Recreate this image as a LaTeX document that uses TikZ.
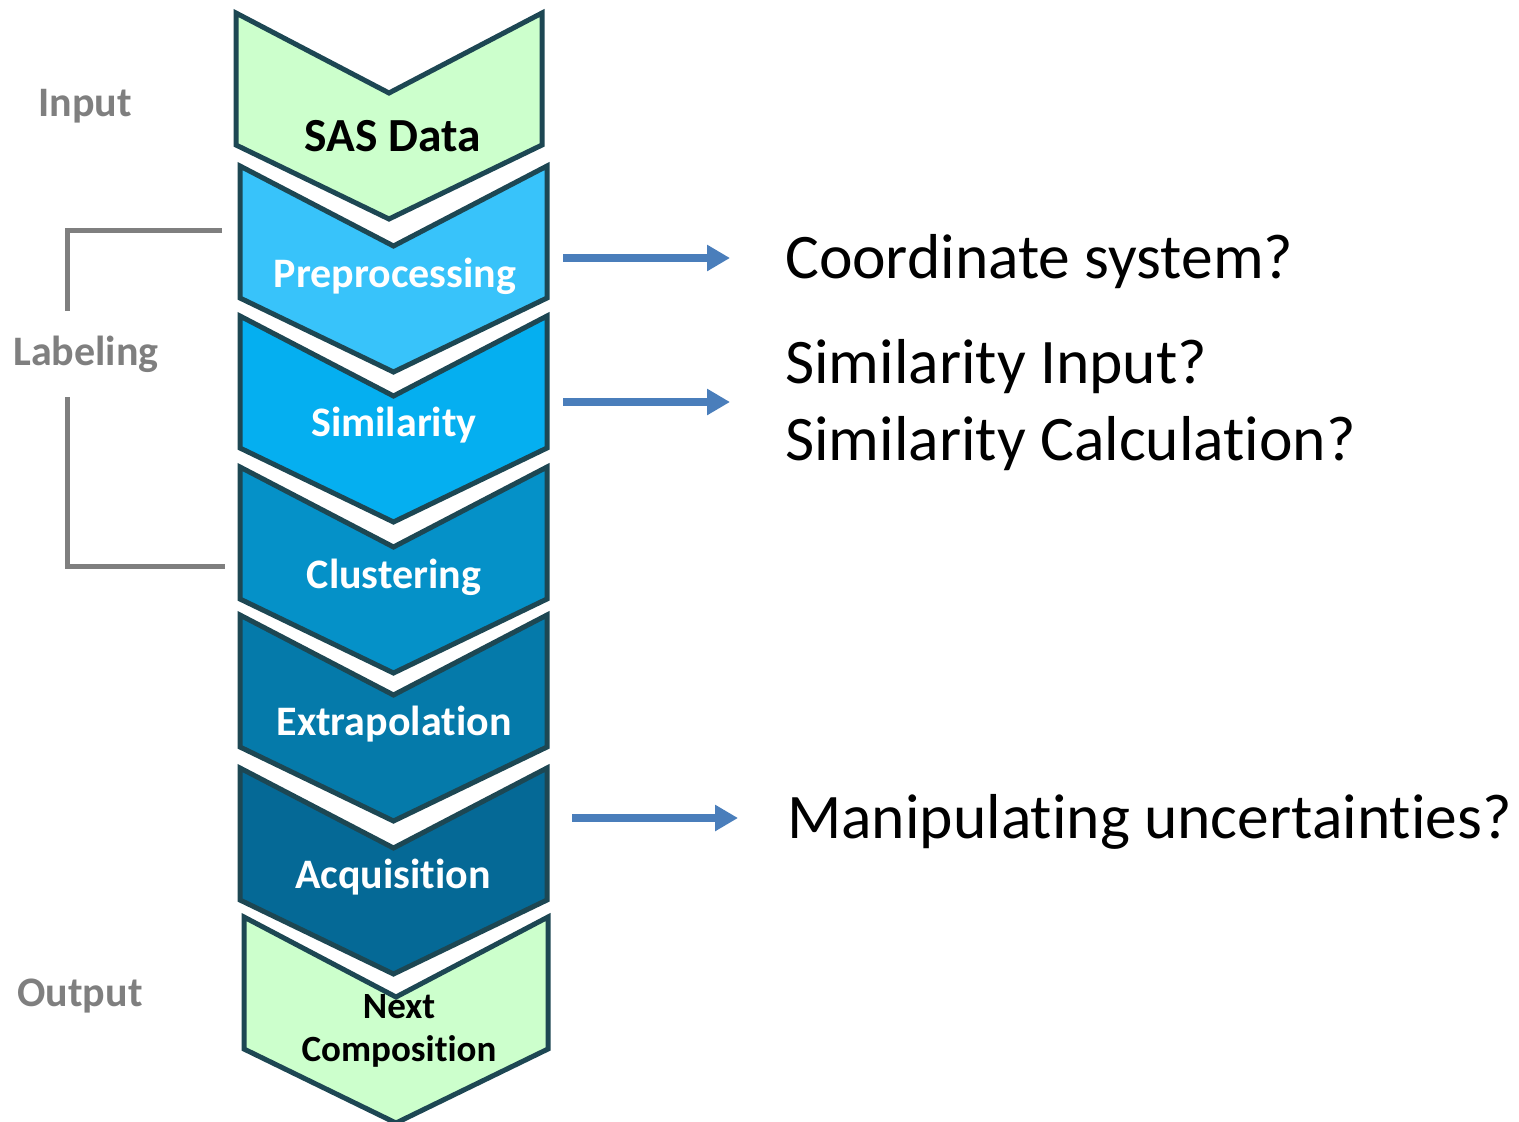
\documentclass[tikz,border=0pt]{standalone}
\usepackage{fontspec}
\setmainfont[Ligatures=NoCommon]{Carlito}
\usetikzlibrary{arrows.meta}

\definecolor{edge}{HTML}{1D4753}
\definecolor{mint}{HTML}{CCFFCC}
\definecolor{skyA}{HTML}{38C3FA}
\definecolor{skyB}{HTML}{05AFF0}
\definecolor{skyC}{HTML}{0591C8}
\definecolor{skyD}{HTML}{057AAA}
\definecolor{skyE}{HTML}{056996}
\definecolor{labgray}{HTML}{7F7F7F}
\definecolor{arrowblue}{HTML}{4A7EBB}

% chevron: fill colour, left x, right x, top y
\newcommand\chevronshape[4]{%
  \path[stage,fill=#1] ({#2},{#4}) -- ({(#2+#3)/2},{#4+80}) -- ({#3},{#4})
    -- ({#3},{#4+132}) -- ({(#2+#3)/2},{#4+206}) -- ({#2},{#4+132}) -- cycle;}

\tikzset{
  stage/.style={draw=edge, line width=5pt, line join=miter},
  stagetext/.style={anchor=base, inner sep=0pt, text=white,
    font=\bfseries\fontsize{42}{50}\selectfont},
  sidelabel/.style={anchor=base, inner sep=0pt, text=labgray,
    font=\bfseries\fontsize{42}{50}\selectfont},
  question/.style={anchor=base west, inner sep=0pt,
    font=\fontsize{63.5}{76}\selectfont},
  bracket/.style={draw=labgray, line width=5pt, line join=miter},
  pointer/.style={draw=arrowblue, line width=8pt,
    -{Triangle[length=23pt,width=25pt]}},
}

\begin{document}
\begin{tikzpicture}[x=1pt, y=-1pt]
\useasboundingbox (0,0) rectangle (1519,1122);
\begin{scope}
\clip (0,0) rectangle (1519,1122);

% process stages
\chevronshape{mint}{236}{542}{13}
\chevronshape{skyA}{240}{547}{166}
\chevronshape{skyB}{240}{547}{316}
\chevronshape{skyC}{240}{547}{467}
\chevronshape{skyD}{240}{547}{615}
\chevronshape{skyE}{240}{547}{768}
\chevronshape{mint}{244}{548}{917}
\end{scope}

\node[stagetext, text=black, font=\bfseries\fontsize{47.5}{56}\selectfont] (sas) at (393,151) {SAS Data};
\node[stagetext] (pre) at (395,287) {Preprocessing};
\node[stagetext] (sim) at (394,436) {Similarity};
\node[stagetext] (clu) at (394,588) {Clustering};
\node[stagetext] (ext) at (394,735) {Extrapolation};
\node[stagetext] (acq) at (393,888) {Acquisition};
\node[anchor=north, inner sep=0pt, align=center, text=black,
  font=\bfseries\fontsize{37}{43}\selectfont] (nxt) at (399,994) {Next\\Composition};

% side labels
\node[sidelabel] (in) at (85,116) {Input};
\node[sidelabel] (lab) at (86,365) {Labeling};
\node[sidelabel] (out) at (80,1006) {Output};

% bracket around the labeling stages
\coordinate (bt1) at (222,230);
\coordinate (bt2) at (67,230);
\coordinate (bt3) at (67,311);
\coordinate (bb1) at (67,397);
\coordinate (bb2) at (67,566);
\coordinate (bb3) at (225,566);
\draw[bracket] (bt1) -- (bt2) -- (bt3);
\draw[bracket] (bb1) -- (bb2) -- (bb3);

% open questions
\node[question] (q1) at (785,278) {Coordinate system?};
\node[question] (q2) at (785,383) {Similarity Input?};
\node[question] (q3) at (785,460) {Similarity Calculation?};
\node[question] (q4) at (787,838) {Manipulating uncertainties?};

\coordinate (a1s) at (563,258);
\coordinate (a1e) at (730,258);
\coordinate (a2s) at (563,402);
\coordinate (a2e) at (730,402);
\coordinate (a3s) at (572,818);
\coordinate (a3e) at (738,818);
\draw[pointer] (a1s) -- (a1e);
\draw[pointer] (a2s) -- (a2e);
\draw[pointer] (a3s) -- (a3e);
\end{tikzpicture}
\end{document}
